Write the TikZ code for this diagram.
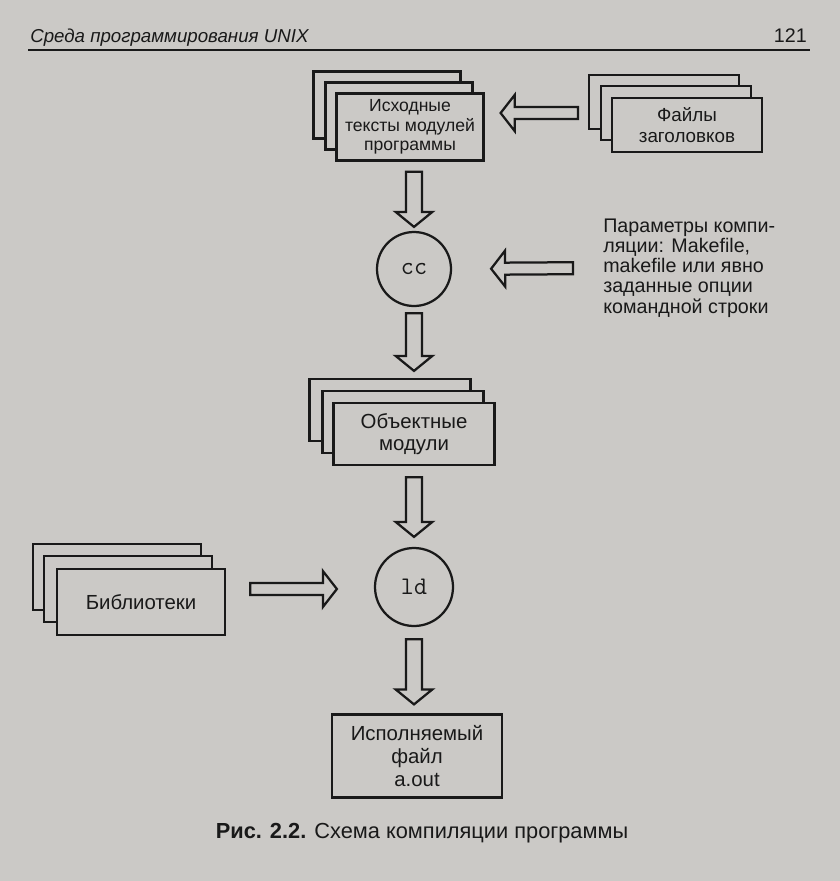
\documentclass[tikz,border=0pt]{standalone}
\usepackage{fontspec}
\setmainfont{Liberation Sans}
\usetikzlibrary{calc, positioning}
\definecolor{paper}{RGB}{203, 201, 198}
\definecolor{ink}{RGB}{25, 25, 25}
\tikzset{
  box/.style        = {rectangle, draw=ink, fill=paper, line width=1.6pt, align=center, inner sep=0pt,
                       text=ink, font=\fontsize{14.5}{16}\selectfont},
  srcsheet/.style   = {box, minimum width=36.75mm, minimum height=16.75mm},
  hdrsheet/.style   = {box, minimum width=37.5mm, minimum height=13.5mm},
  objsheet/.style   = {box, minimum width=40.25mm, minimum height=15.5mm},
  libsheet/.style   = {box, minimum width=42mm, minimum height=16.5mm},
  prog/.style       = {circle, draw=ink, line width=1.6pt, inner sep=0pt, text=ink,
                       font=\ttfamily\fontsize{18}{18}\selectfont},
  bs/.store in=\bas, bt/.store in=\bat,
  bw/.store in=\baw, bh/.store in=\bah, bl/.store in=\bal,
  bs=2.5mm, bt=2.5mm, bw=2mm, bh=4.6mm, bl=3.75mm,
  blockarrow/.style = {draw=ink, fill=paper, line width=1.6pt, line join=miter,
    to path={
      ($(\tikztostart)!\bas!(\tikztotarget)$) coordinate (ba-s)
      ($(\tikztotarget)!\bat!(\tikztostart)$) coordinate (ba-t)
      ($(ba-t)!\bal!(ba-s)$) coordinate (ba-h)
      ($(ba-s)!\baw!90:(ba-t)$) -- ($(ba-h)!\baw!-90:(ba-s)$)
      -- ($(ba-h)!\bah!-90:(ba-s)$) -- (ba-t)
      -- ($(ba-h)!\bah!90:(ba-s)$) -- ($(ba-h)!\baw!90:(ba-s)$)
      -- ($(ba-s)!\baw!-90:(ba-t)$) -- cycle}},
  flat/.style       = {bw=1.5mm, bh=4.5mm, bl=3.5mm},
}

\begin{document}
\begin{tikzpicture}[x=0.25mm, y=-0.25mm]

% страница
\fill[paper] (0,0) rectangle (840,881);

% колонтитул
\node[anchor=base west, inner sep=0pt, text=ink, font=\itshape\fontsize{13.3}{13.3}\selectfont] (runhead) at (30,42) {Среда программирования UNIX};
\node[anchor=base east, inner sep=0pt, text=ink, font=\fontsize{14}{14}\selectfont] (pageno) at (807,42) {121};
\draw[ink, line width=1.8pt] (28,50) -- (810,50);

% стопка исходных текстов
\coordinate (src-at) at (410,127);
\node[srcsheet] (src3) at ([shift={(-5.75mm,5.5mm)}]src-at) {};
\node[srcsheet] (src2) at ([shift={(-2.75mm,2.75mm)}]src-at) {};
\node[srcsheet, font=\fontsize{12.5}{14}\selectfont] (src) at (src-at) {Исходные\\тексты модулей\\программы};

% стопка заголовков
\coordinate (hdr-at) at (687,125);
\node[hdrsheet] (hdr3) at ([shift={(-5.75mm,5.75mm)}]hdr-at) {};
\node[hdrsheet] (hdr2) at ([shift={(-2.75mm,3mm)}]hdr-at) {};
\node[hdrsheet, font=\fontsize{13.4}{15}\selectfont] (hdr) at (hdr-at) {Файлы\\заголовков};

% компилятор и параметры
\node[prog, minimum size=18.5mm] (cc) at (414,269) {cc};
\node[anchor=west, align=left, inner sep=0pt, text=ink, font=\fontsize{14}{14.4}\selectfont] (opts) at (603,268)
  {Параметры компи-\\ляции: Makefile,\\makefile или явно\\заданные опции\\командной строки};

% стопка объектных модулей
\coordinate (obj-at) at (414,434);
\node[objsheet] (obj3) at ([shift={(-6mm,6mm)}]obj-at) {};
\node[objsheet] (obj2) at ([shift={(-2.75mm,3mm)}]obj-at) {};
\node[objsheet] (obj) at (obj-at) {Объектные\\модули};

% компоновщик
\node[prog, minimum size=19.5mm] (ld) at (414,587) {ld};

% стопка библиотек
\coordinate (lib-at) at (141,602);
\node[libsheet] (lib3) at ([shift={(-6mm,6.25mm)}]lib-at) {};
\node[libsheet] (lib2) at ([shift={(-3.25mm,3.25mm)}]lib-at) {};
\node[libsheet] (lib) at (lib-at) {Библиотеки};

% результат
\node[box, minimum width=42.5mm, minimum height=20.75mm, font=\fontsize{14.5}{16.2}\selectfont] (exe) at (417,756) {Исполняемый\\файл\\a.out};

% стрелки
\draw[blockarrow, flat, bs=5.5mm, bt=4mm] (hdr2.west) to (hdr2.west -| src.east);
\draw[blockarrow, bs=2.5mm, bt=1mm] (cc.north |- src.south) to (cc.north);
\draw[blockarrow, flat, bs=7.5mm, bt=9.75mm] (opts.west) to (cc.east);
\draw[blockarrow, bs=1.5mm, bt=1.75mm] (cc.south) to (cc.south |- obj3.north);
\draw[blockarrow, bs=2.75mm, bt=2.5mm] (obj.south -| ld.north) to (ld.north);
\draw[blockarrow, flat, bs=9.25mm, bt=9.25mm] (lib2.east) to (lib2.east -| ld.west);
\draw[blockarrow, bs=3mm, bt=2.25mm] (ld.south) to (ld.south |- exe.north);

% подпись
\node[anchor=base, inner sep=0pt, text=ink, font=\fontsize{15.5}{15.5}\selectfont] (caption) at (422,838)
  {\textbf{Рис. 2.2.} Схема компиляции программы};

\end{tikzpicture}
\end{document}
